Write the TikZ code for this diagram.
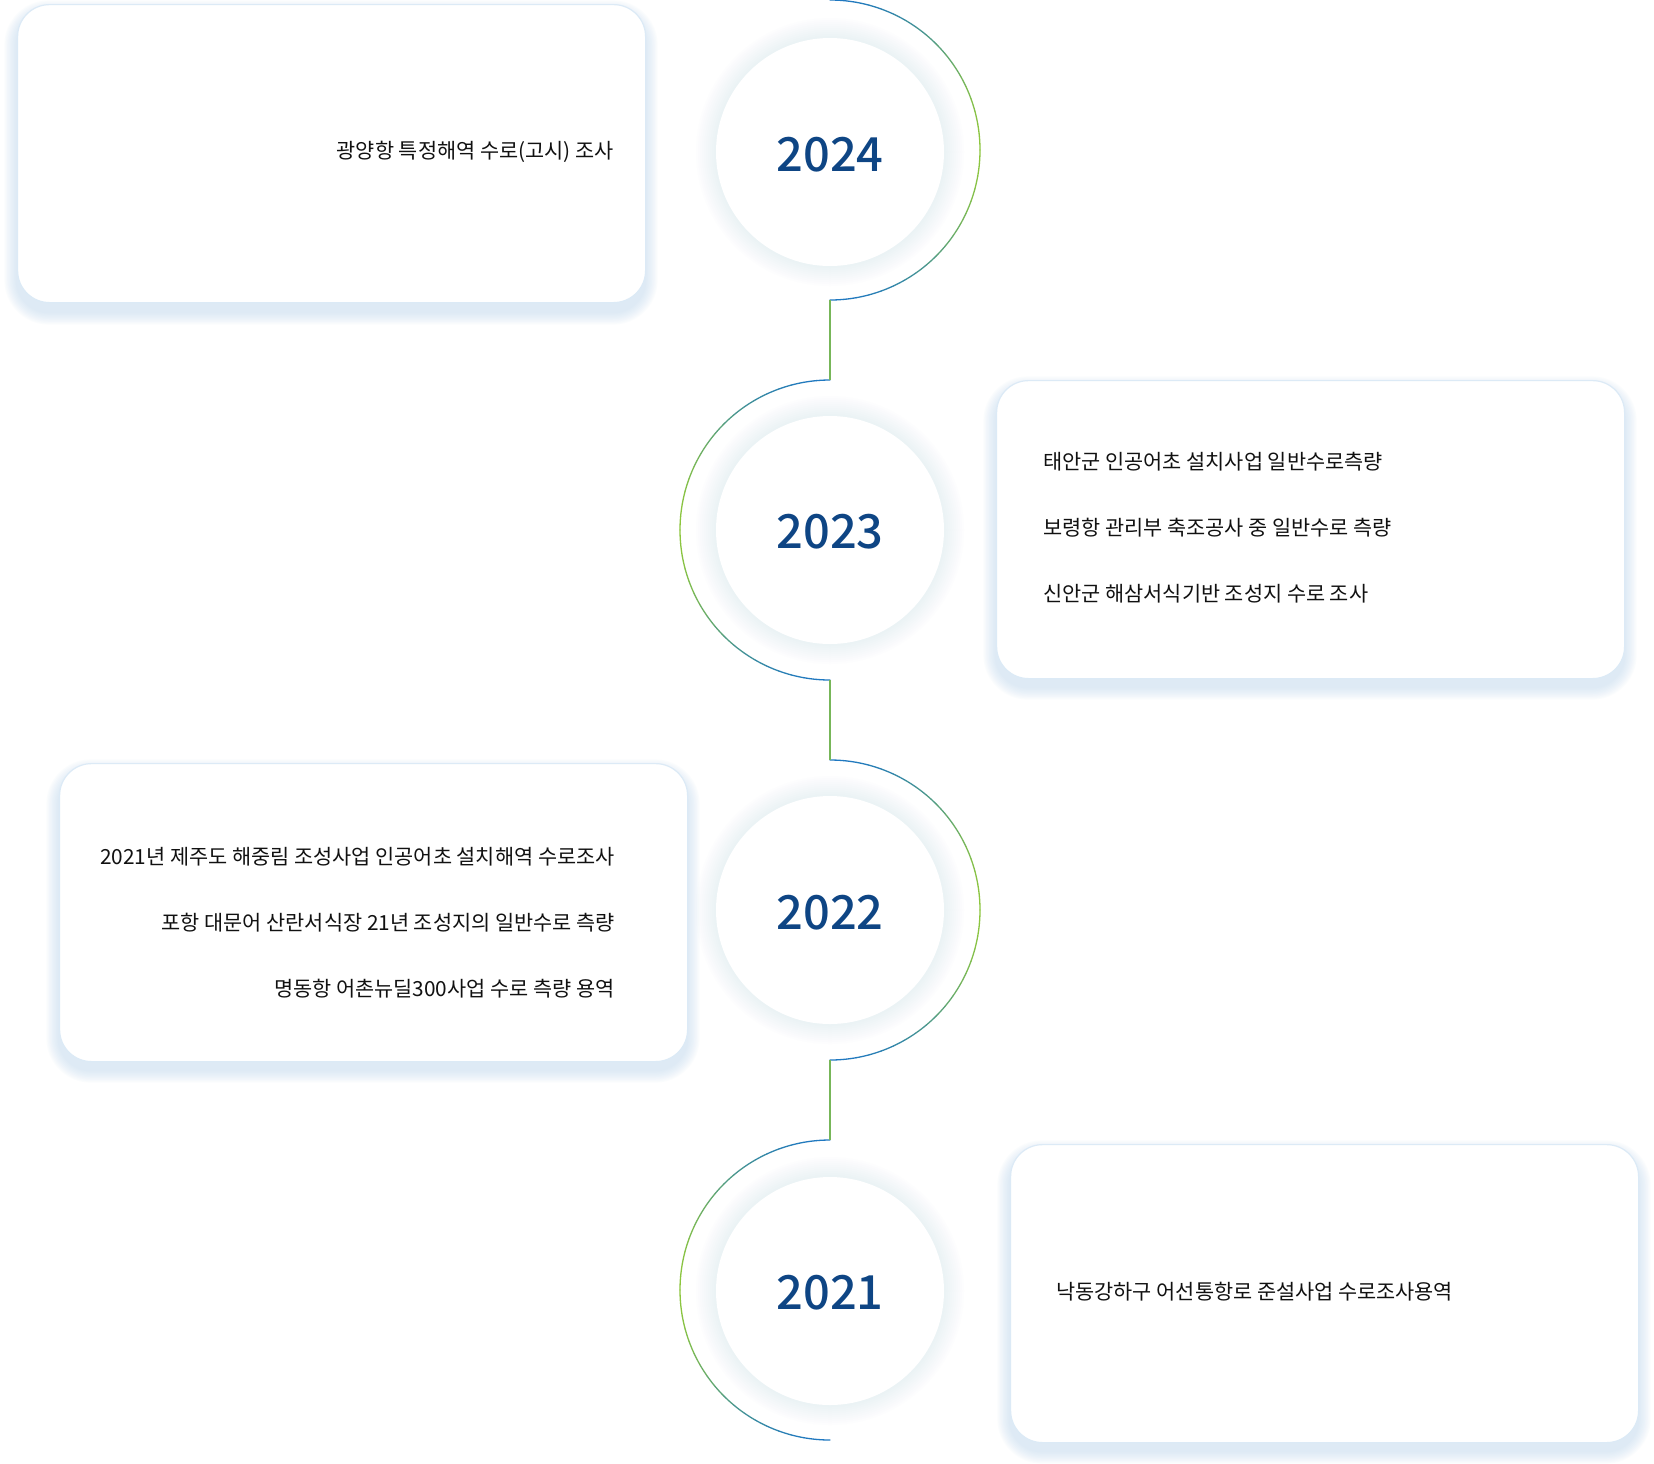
\documentclass[tikz,border=0pt]{standalone}
\usepackage{fontspec}
\setmainfont{Noto Sans CJK KR}
\newfontfamily\yearfont{Noto Sans CJK KR Medium}
\definecolor{arcblue}{HTML}{1F78C1}
\definecolor{arcgreen}{HTML}{8DC63F}
\definecolor{yearblue}{HTML}{0E4584}
\definecolor{boxline}{HTML}{DCEAF6}
\definecolor{shadowc}{HTML}{B5D2EC}
\definecolor{glowc}{HTML}{C9DFF3}
\definecolor{txt}{HTML}{111111}
\tikzset{
  itemtext/.style={font=\fontsize{10.4}{12}\selectfont, text=txt, inner sep=0pt},
  yearcircle/.style={circle, fill=white, minimum size=114pt, inner sep=0pt},
  yeartext/.style={inner sep=0pt, font=\fontsize{23.5}{28}\yearfont, text=yearblue},
  cardbox/.style={draw=boxline, line width=0.6pt, fill=white, rounded corners=16pt,
                  minimum width=314pt, minimum height=149pt, inner sep=0pt, anchor=north west},
  arcline/.style={line width=0.65pt, line cap=round},
  connline/.style={line width=0.65pt, draw=arcgreen!80!arcblue},
}
% card shadow: x1, y1, x2, y2 (pixel coords)
\newcommand\mycardshadow[4]{%
  \foreach \k in {9,8,...,1}{%
    \pgfmathsetmacro\rc{16+0.7*\k}%
    \fill[shadowc, opacity=0.055, rounded corners=\rc pt]
      (#1-1.4*\k, #2-1.4*\k+9) rectangle (#3+1.4*\k, #4+1.4*\k+9);
  }%
}
% circle glow: cx, cy
\newcommand\myglow[2]{%
  \foreach \k in {10,9,...,1}{%
    \pgfmathsetmacro\gr{114+2*\k}%
    \fill[glowc, opacity=0.035] (#1,#2) circle[radius=\gr];
  }%
}
% gradient arc: cx, cy, start angle, direction
\newcommand\myarc[4]{%
  \foreach \i in {0,...,35}{%
    \pgfmathsetmacro\aa{#3+#4*5*\i}%
    \pgfmathsetmacro\ab{\aa+#4*5}%
    \pgfmathsetmacro\am{\aa+#4*2.5}%
    \pgfmathsetmacro\tt{100*cos(\am)*cos(\am)}%
    \draw[arcline, draw=arcgreen!\tt!arcblue]
      ({#1+150*cos(\aa)},{#2+150*sin(\aa)}) arc[start angle=\aa, end angle=\ab, radius=150];
  }%
}
\begin{document}
\begin{tikzpicture}[x=0.5pt,y=-0.5pt]
\useasboundingbox (0,0) rectangle (1654,1463);
\fill[white] (0,0) rectangle (1654,1463);

% ---- cards ----
\mycardshadow{17}{4}{645}{303}
\node[cardbox] (b2024) at (17,4) {};
\mycardshadow{996}{380}{1624}{678}
\node[cardbox] (b2023) at (996,380) {};
\mycardshadow{59}{763}{687}{1061}
\node[cardbox] (b2022) at (59,763) {};
\mycardshadow{1010}{1144}{1638}{1442}
\node[cardbox] (b2021) at (1010,1144) {};

% ---- card texts ----
\node[itemtext, anchor=east] (t2024a) at (614,152) {광양항 특정해역 수로(고시) 조사};
\node[itemtext, anchor=west] (t2023a) at (1043,462) {태안군 인공어초 설치사업 일반수로측량};
\node[itemtext, anchor=west] (t2023b) at (1043,528) {보령항 관리부 축조공사 중 일반수로 측량};
\node[itemtext, anchor=west] (t2023c) at (1043,594) {신안군 해삼서식기반 조성지 수로 조사};
\node[itemtext, anchor=east] (t2022a) at (615,857) {2021년 제주도 해중림 조성사업 인공어초 설치해역 수로조사};
\node[itemtext, anchor=east] (t2022b) at (615,923) {포항 대문어 산란서식장 21년 조성지의 일반수로 측량};
\node[itemtext, anchor=east] (t2022c) at (615,989) {명동항 어촌뉴딜300사업 수로 측량 용역};
\node[itemtext, anchor=west] (t2021a) at (1056,1292) {낙동강하구 어선통항로 준설사업 수로조사용역};

% ---- year circles ----
\myglow{830}{152}
\node[yearcircle] (c2024) at (830,152) {};
\node[yeartext] (y2024) at (830,155) {2024};
\myglow{830}{530}
\node[yearcircle] (c2023) at (830,530) {};
\node[yeartext] (y2023) at (830,532) {2023};
\myglow{830}{910}
\node[yearcircle] (c2022) at (830,910) {};
\node[yeartext] (y2022) at (830,913) {2022};
\myglow{830}{1291}
\node[yearcircle] (c2021) at (830,1291) {};
\node[yeartext] (y2021) at (830,1293) {2021};

% ---- timeline arcs ----
\myarc{830}{150}{-90}{1}
\myarc{830}{530}{270}{-1}
\myarc{830}{910}{-90}{1}
\myarc{830}{1290}{270}{-1}

\coordinate (a2024b) at (830,300);
\coordinate (a2023t) at (830,380);
\coordinate (a2023b) at (830,680);
\coordinate (a2022t) at (830,760);
\coordinate (a2022b) at (830,1060);
\coordinate (a2021t) at (830,1140);
\draw[connline] (a2024b) -- (a2023t);
\draw[connline] (a2023b) -- (a2022t);
\draw[connline] (a2022b) -- (a2021t);
\end{tikzpicture}
\end{document}
